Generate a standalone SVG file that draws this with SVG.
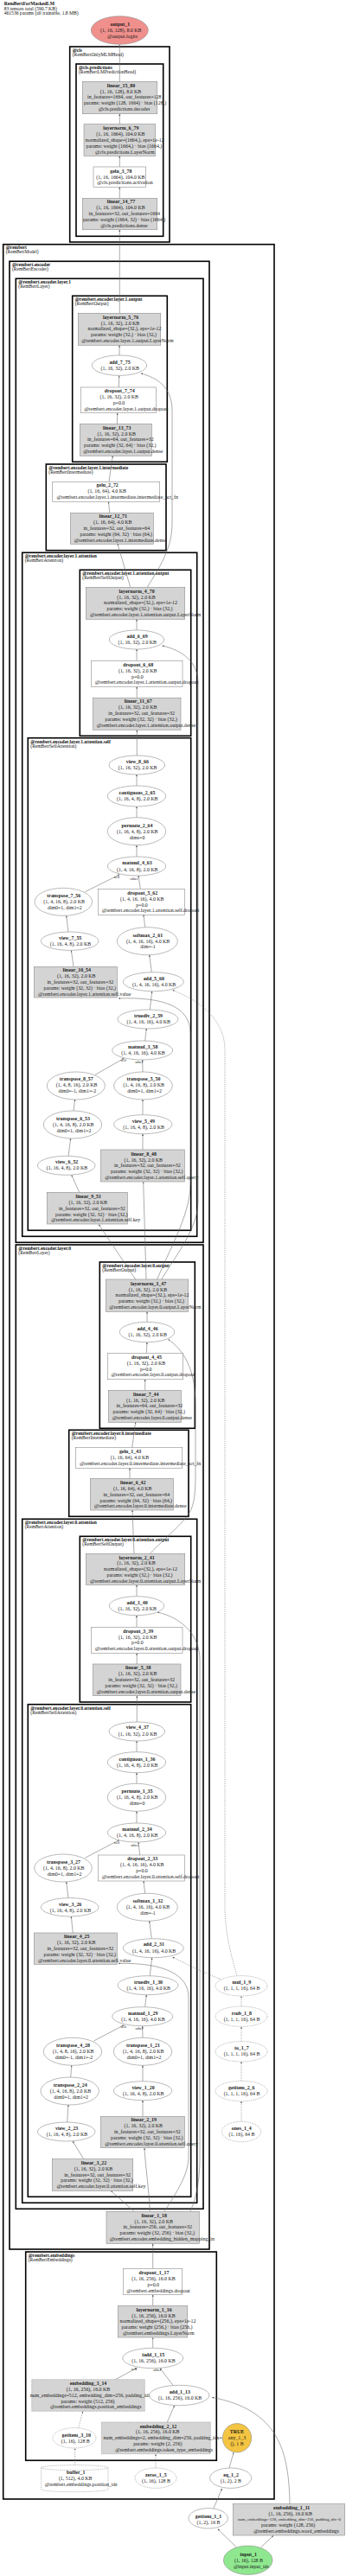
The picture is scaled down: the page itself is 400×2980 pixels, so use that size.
<svg xmlns="http://www.w3.org/2000/svg" width="400" height="2980" viewBox="0 0 400 2980">
<defs>
<style>
text{font-family:'Liberation Serif','Times New Roman',serif}
.c{fill:none;stroke:#000;stroke-width:1.6}
.cl{font-size:5.5px;fill:#111}
.b{font-weight:bold}
.n{stroke:#8c8c8c;stroke-width:.6}
.g{fill:#d4d4d4}
.w{fill:#fff}
.d{stroke-dasharray:1.2 1}
.t{font-size:5.9px;text-anchor:middle;fill:#1a1a1a}
.h{font-size:5.6px;fill:#111}
.e{fill:none;stroke:#666;stroke-width:.55;marker-end:url(#a)}
.ed{stroke-dasharray:1.2 1.2}
.el{font-size:4.4px;text-anchor:middle;fill:#222}
</style>
<marker id="a" markerWidth="4" markerHeight="4" refX="2.2" refY="1" orient="auto" markerUnits="userSpaceOnUse"><path d="M0,0 L2.2,1 L0,2 z" fill="#555"/></marker>
</defs>
<rect width="400" height="2980" fill="#fff"/>
<g id="header">
<text class="h b" x="4.7" y="6.3">RemBertForMaskedLM</text>
<text class="h" x="4.7" y="11.5">83 tensors total (590.7 KB)</text>
<text class="h" x="4.7" y="16.7">461536 params (all trainable, 1.8 MB)</text>
</g>
<g id="clusters">
<rect class="c" x="80.7" y="54" width="115.3" height="226"/>
<text class="cl b" x="83.7" y="59.8">@cls</text><text class="cl" x="83.7" y="64.5">(RemBertOnlyMLMHead)</text>
<rect class="c" x="88" y="74" width="100.7" height="199.3"/>
<text class="cl b" x="91" y="79.8">@cls.predictions</text><text class="cl" x="91" y="84.8">(RemBertLMPredictionHead)</text>
<rect class="c" x="3.7" y="282.7" width="313.3" height="2608.3"/>
<text class="cl b" x="6.7" y="287.8">@rembert</text><text class="cl" x="6.7" y="292.8">(RemBertModel)</text>
<rect class="c" x="11" y="302.3" width="231" height="2299.7"/>
<text class="cl b" x="14" y="307.8">@rembert.encoder</text><text class="cl" x="14" y="312.8">(RemBertEncoder)</text>
<rect class="c" x="18.3" y="322.3" width="216.7" height="1115"/>
<text class="cl b" x="21.3" y="327.8">@rembert.encoder.layer.1</text><text class="cl" x="21.3" y="332.8">(RemBertLayer)</text>
<rect class="c" x="83.7" y="342.3" width="109.6" height="192"/>
<text class="cl b" x="86.7" y="347.8">@rembert.encoder.layer.1.output</text><text class="cl" x="86.7" y="352.8">(RemBertOutput)</text>
<rect class="c" x="53.3" y="537" width="138.7" height="99.7"/>
<text class="cl b" x="56.3" y="542.6">@rembert.encoder.layer.1.intermediate</text><text class="cl" x="56.3" y="547.6">(RemBertIntermediate)</text>
<rect class="c" x="25.7" y="639.3" width="202" height="791"/>
<text class="cl b" x="28.7" y="644.8">@rembert.encoder.layer.1.attention</text><text class="cl" x="28.7" y="649.8">(RemBertAttention)</text>
<rect class="c" x="92.3" y="659.3" width="128.4" height="192"/>
<text class="cl b" x="95.3" y="664.8">@rembert.encoder.layer.1.attention.output</text><text class="cl" x="95.3" y="669.8">(RemBertSelfOutput)</text>
<rect class="c" x="32.3" y="853.7" width="188.4" height="569.6"/>
<text class="cl b" x="35.3" y="859.5">@rembert.encoder.layer.1.attention.self</text><text class="cl" x="35.3" y="864.5">(RemBertSelfAttention)</text>
<rect class="c" x="18.3" y="1440" width="216.7" height="1115.3"/>
<text class="cl b" x="21.3" y="1445.8">@rembert.encoder.layer.0</text><text class="cl" x="21.3" y="1450.8">(RemBertLayer)</text>
<rect class="c" x="115.3" y="1460" width="110" height="192.3"/>
<text class="cl b" x="118.3" y="1465.8">@rembert.encoder.layer.0.output</text><text class="cl" x="118.3" y="1470.8">(RemBertOutput)</text>
<rect class="c" x="79.7" y="1654.3" width="138.3" height="100"/>
<text class="cl b" x="82.7" y="1660">@rembert.encoder.layer.0.intermediate</text><text class="cl" x="82.7" y="1665">(RemBertIntermediate)</text>
<rect class="c" x="25.7" y="1757.3" width="202" height="791"/>
<text class="cl b" x="28.7" y="1762.8">@rembert.encoder.layer.0.attention</text><text class="cl" x="28.7" y="1767.8">(RemBertAttention)</text>
<rect class="c" x="92.3" y="1777.3" width="128.4" height="191.7"/>
<text class="cl b" x="95.3" y="1782.8">@rembert.encoder.layer.0.attention.output</text><text class="cl" x="95.3" y="1787.8">(RemBertSelfOutput)</text>
<rect class="c" x="32.3" y="1971.7" width="188.4" height="569.6"/>
<text class="cl b" x="35.3" y="1977.5">@rembert.encoder.layer.0.attention.self</text><text class="cl" x="35.3" y="1982.5">(RemBertSelfAttention)</text>
<rect class="c" x="29.7" y="2605" width="220.6" height="241.3"/>
<text class="cl b" x="32.7" y="2610.5">@rembert.embeddings</text><text class="cl" x="32.7" y="2615.5">(RemBertEmbeddings)</text>
</g>
<g id="edges">
<path class="e" d="M138.3,94.3 L138.3,51.5"/>
<path class="e" d="M138.3,143.7 L138.3,131.7"/>
<path class="e" d="M138.3,193 L138.3,180.3"/>
<path class="e" d="M138.3,229.3 L138.3,216.3"/>
<path class="e" d="M138.3,362.3 L138.3,265.7"/>
<path class="e" d="M138,411 L138,399.3"/>
<path class="e" d="M137.3,448 L137.7,434.4"/>
<path class="e" d="M135.3,490.3 L135.7,477.7"/>
<path class="e" d="M126,557.3 L130.3,527.3"/>
<path class="e" d="M126.7,593.3 L125.5,580.3"/>
<path class="e" d="M150.7,679.3 L136,629.3"/>
<path class="e" d="M170.3,679.3 C185,655 199,635 199,605 L199,475 C199,448 182,437 163,432"/>
<path class="e" d="M158,728.8 L158,716.3"/>
<path class="e" d="M158,764.3 L158,751"/>
<path class="e" d="M158.2,807.3 L158.2,794.3"/>
<path class="e" d="M158.3,874 L158.3,844.3"/>
<path class="e" d="M158,909 L158,896"/>
<path class="e" d="M158,945.7 L158,933"/>
<path class="e" d="M158,991 L158,977.7"/>
<path class="e" d="M98.3,1031.7 L138.3,1011.7"/>
<path class="e" d="M162.3,1028.3 L160,1013"/>
<path class="e" d="M79,1078 L76.7,1059.3"/>
<path class="e" d="M167.7,1072.7 L166,1058.3"/>
<path class="e" d="M85,1118.3 L82.3,1099.4"/>
<path class="e" d="M175.3,1124.7 L172.7,1104.7"/>
<path class="e" d="M173.3,1168 L175.7,1146.7"/>
<path class="e" d="M167.7,1204 L169.3,1190"/>
<path class="e" d="M110,1243.3 L143.3,1224.3"/>
<path class="e" d="M165,1240 L164.7,1226"/>
<path class="e" d="M85,1285 L86.7,1272"/>
<path class="e" d="M165,1289.7 L165,1272"/>
<path class="e" d="M79,1337.3 L81.7,1317"/>
<path class="e" d="M165,1330 L165,1311.7"/>
<path class="e" d="M91.7,1379.3 L82.7,1359.3"/>
<path class="e" d="M156.7,1480 L114.3,1416.5"/>
<path class="e" d="M169,1480 L165.7,1367.3"/>
<path class="e" d="M181.7,1480 C196,1445 220,1405 220,1370 L220,1195 C220,1165 190,1153 137,1155"/>
<path class="e" d="M186.7,1480 C205,1450 229,1420 229,1390 L229,790 C229,765 210,752 187.5,747"/>
<path class="e" d="M170,1529.3 L170,1517.3"/>
<path class="e" d="M169.3,1565.3 L170,1552.7"/>
<path class="e" d="M167.7,1608.3 L167.7,1595.7"/>
<path class="e" d="M152.7,1674.7 L156.7,1645.3"/>
<path class="e" d="M150,1710.3 L150,1698.3"/>
<path class="e" d="M155,1797.3 L153,1747"/>
<path class="e" d="M173.3,1797.3 C190,1780 212,1762 219,1750 C225,1740 226,1725 226,1705 L226,1625 C226,1585 213,1562 194.5,1549.5"/>
<path class="e" d="M158,1846.7 L158,1833.3"/>
<path class="e" d="M158,1882.3 L158,1868.7"/>
<path class="e" d="M158.2,1925 L158.2,1912.3"/>
<path class="e" d="M158.3,1992 L158.3,1961.7"/>
<path class="e" d="M158,2026.7 L158,2014"/>
<path class="e" d="M158,2063.3 L158,2050.7"/>
<path class="e" d="M158,2109 L158,2095.3"/>
<path class="e" d="M98.3,2149.3 L138.3,2128.3"/>
<path class="e" d="M161.7,2146 L160,2131"/>
<path class="e" d="M79,2195.6 L76.7,2177"/>
<path class="e" d="M167.7,2190.3 L166,2176"/>
<path class="e" d="M84.3,2236 L82.3,2217"/>
<path class="e" d="M175.3,2242.7 L172.7,2222.3"/>
<path class="e" d="M173.3,2285.7 L175.7,2264.7"/>
<path class="e" d="M167.7,2321.7 L169.3,2307.7"/>
<path class="e" d="M108.3,2361 L143.3,2342.7"/>
<path class="e" d="M165,2357.3 L164.7,2343.7"/>
<path class="e" d="M81.7,2403 L82.7,2389.3"/>
<path class="e" d="M165,2407.7 L165,2389.3"/>
<path class="e" d="M77.7,2455 L79,2435"/>
<path class="e" d="M165,2448.3 L165,2429.7"/>
<path class="e" d="M96.7,2497.7 L84,2477"/>
<path class="e" d="M155,2558.3 L128.3,2534.5"/>
<path class="e" d="M173.3,2558.3 C172,2530 168,2505 167,2485"/>
<path class="e" d="M190,2558.3 C205,2535 218,2515 218,2495 L218,2310 C218,2285 190,2270 137,2271.5"/>
<path class="e" d="M220,2558.3 C228,2540 231,2520 231,2495 L231,1920 C231,1893 212,1872 182,1865"/>
<path class="e" d="M176.7,2624.3 L176.7,2595.5"/>
<path class="e" d="M176.7,2667.3 L176.7,2654.5"/>
<path class="e" d="M176.7,2716.3 L176.7,2704.2"/>
<path class="e" d="M133.3,2752.7 L158.3,2739.4"/>
<path class="e" d="M200,2759.3 L185,2739.6"/>
<path class="e" d="M193.3,2802 L201.7,2782.7"/>
<path class="e ed" d="M90.7,2808.7 L95.7,2789.5"/>
<path class="e ed" d="M86.7,2851.7 L86.7,2832.2"/>
<path class="e ed" d="M180,2855 L180,2839"/>
<path class="e" d="M265,2855 L270,2837.2"/>
<path class="e" d="M246.7,2902.3 L256.7,2878.8"/>
<path class="e" d="M273.3,2946.7 L251.7,2925.5"/>
<path class="e" d="M301.7,2946.7 L316,2933.3"/>
<path class="e" d="M335,2896.7 C334,2835 322,2788 245,2773.3"/>
<path class="e ed" d="M279,2454.3 L279,2430.8"/>
<path class="e ed" d="M279,2407.3 L279,2385.1"/>
<path class="e ed" d="M279,2361.6 L279,2344.5"/>
<path class="e ed" d="M279,2321 L279,2309.1"/>
<path class="e ed" d="M274,2285.7 C268,2265 261,2240 260,2210 L260,1215 C260,1180 232,1158 199.5,1145.5"/>
<path class="e ed" d="M255,2289.5 C235,2282 215,2272 199.5,2264"/>
<text class="el" x="135" y="1015.5">self</text><text class="el" x="155" y="1017.5">other</text>
<text class="el" x="142.7" y="1228.2">self</text><text class="el" x="160.7" y="1230.2">other</text>
<text class="el" x="135" y="2133.2">self</text><text class="el" x="155.7" y="2135.5">other</text>
<text class="el" x="142.7" y="2345.8">self</text><text class="el" x="161" y="2347.8">other</text>
<text class="el" x="155" y="2741.8">self</text><text class="el" x="181.7" y="2742.5">other</text>
</g>
<g id="output_1"><ellipse cx="138.3" cy="35" rx="33" ry="16.3" fill="#f0908c" class="n"/><text class="t"><tspan class="b" x="138.9" y="30.3">output_1</tspan><tspan x="139.7" y="37">(1, 16, 128), 8.0 KB</tspan><tspan x="141.5" y="44">@output.logits</tspan></text></g>
<g id="linear_15_80"><rect class="n g" x="95.3" y="94.3" width="86.4" height="37.4"/><text class="t"><tspan class="b" x="140" y="101">linear_15_80</tspan><tspan x="139.5" y="107.7">(1, 16, 128), 8.0 KB</tspan><tspan x="143.8" y="114.3">in_features=1664, out_features=128</tspan><tspan x="144.5" y="121">params: weight (128, 1664) · bias (128,)</tspan><tspan x="143.5" y="128">@cls.predictions.decoder</tspan></text></g>
<g id="layernorm_6_79"><rect class="n g" x="97" y="143.7" width="82.7" height="36.6"/><text class="t"><tspan class="b" x="139.8" y="150.3">layernorm_6_79</tspan><tspan x="139.4" y="157">(1, 16, 1664), 104.0 KB</tspan><tspan x="144.3" y="163.7">normalized_shape=(1664,), eps=1e-12</tspan><tspan x="143.4" y="170.7">params: weight (1664,) · bias (1664,)</tspan><tspan x="144.3" y="177.7">@cls.predictions.LayerNorm</tspan></text></g>
<g id="gelu_3_78"><rect class="n w" x="108" y="193" width="60.7" height="23.3"/><text class="t"><tspan class="b" x="139.8" y="199.7">gelu_3_78</tspan><tspan x="139.4" y="206.7">(1, 16, 1664), 104.0 KB</tspan><tspan x="144.5" y="213.3">@cls.predictions.activation</tspan></text></g>
<g id="linear_14_77"><rect class="n g" x="95.3" y="229.3" width="86.4" height="36.4"/><text class="t"><tspan class="b" x="140" y="235.3">linear_14_77</tspan><tspan x="139.5" y="242.3">(1, 16, 1664), 104.0 KB</tspan><tspan x="143.8" y="249">in_features=32, out_features=1664</tspan><tspan x="143.5" y="256.3">params: weight (1664, 32) · bias (1664,)</tspan><tspan x="143.4" y="263">@cls.predictions.dense</tspan></text></g>
<g id="layernorm_5_76"><rect class="n g" x="90.3" y="362.3" width="95.4" height="37"/><text class="t"><tspan class="b" x="139.5" y="369">layernorm_5_76</tspan><tspan x="139" y="375.7">(1, 16, 32), 2.0 KB</tspan><tspan x="144" y="382.3">normalized_shape=(32,), eps=1e-12</tspan><tspan x="143" y="389">params: weight (32,) · bias (32,)</tspan><tspan x="147.4" y="396">@rembert.encoder.layer.1.output.LayerNorm</tspan></text></g>
<g id="add_7_75"><ellipse class="n w" cx="138" cy="422.7" rx="31.7" ry="11.7"/><text class="t"><tspan class="b" x="138.5" y="421.3">add_7_75</tspan><tspan x="138.8" y="428">(1, 16, 32), 2.0 KB</tspan></text></g>
<g id="dropout_7_74"><rect class="n w" x="93.3" y="448" width="87" height="29.7"/><text class="t"><tspan class="b" x="138.3" y="454">dropout_7_74</tspan><tspan x="137.8" y="461">(1, 16, 32), 2.0 KB</tspan><tspan x="137.5" y="467.7">p=0.0</tspan><tspan x="145.8" y="474.7">@rembert.encoder.layer.1.output.dropout</tspan></text></g>
<g id="linear_13_73"><rect class="n g" x="92.3" y="490.3" width="83" height="37"/><text class="t"><tspan class="b" x="135.3" y="496.7">linear_13_73</tspan><tspan x="134.8" y="503.7">(1, 16, 32), 2.0 KB</tspan><tspan x="139.3" y="510.3">in_features=64, out_features=32</tspan><tspan x="138.8" y="517.3">params: weight (32, 64) · bias (32,)</tspan><tspan x="142.3" y="524.3">@rembert.encoder.layer.1.output.dense</tspan></text></g>
<g id="gelu_2_72"><rect class="n w" x="60.7" y="557.3" width="124" height="23"/><text class="t"><tspan class="b" x="124.2" y="563.3">gelu_2_72</tspan><tspan x="123.7" y="570.3">(1, 16, 64), 4.0 KB</tspan><tspan x="135.8" y="577">@rembert.encoder.layer.1.intermediate.intermediate_act_fn</tspan></text></g>
<g id="linear_12_71"><rect class="n g" x="81.3" y="593.3" width="96" height="36"/><text class="t"><tspan class="b" x="130.8" y="599">linear_12_71</tspan><tspan x="130.3" y="606">(1, 16, 64), 4.0 KB</tspan><tspan x="134.8" y="613">in_features=32, out_features=64</tspan><tspan x="134.3" y="619.7">params: weight (64, 32) · bias (64,)</tspan><tspan x="139.2" y="626.7">@rembert.encoder.layer.1.intermediate.dense</tspan></text></g>
<g id="layernorm_4_70"><rect class="n g" x="99.3" y="679.3" width="114.4" height="37"/><text class="t"><tspan class="b" x="158" y="685.7">layernorm_4_70</tspan><tspan x="157.5" y="692.7">(1, 16, 32), 2.0 KB</tspan><tspan x="162.5" y="699.3">normalized_shape=(32,), eps=1e-12</tspan><tspan x="161.5" y="706">params: weight (32,) · bias (32,)</tspan><tspan x="168.2" y="713">@rembert.encoder.layer.1.attention.output.LayerNorm</tspan></text></g>
<g id="add_6_69"><ellipse class="n w" cx="158" cy="740" rx="31.7" ry="11"/><text class="t"><tspan class="b" x="158.5" y="738">add_6_69</tspan><tspan x="158.8" y="745">(1, 16, 32), 2.0 KB</tspan></text></g>
<g id="dropout_6_68"><rect class="n w" x="105.3" y="764.3" width="105.7" height="30"/><text class="t"><tspan class="b" x="159.7" y="771">dropout_6_68</tspan><tspan x="159.2" y="777.7">(1, 16, 32), 2.0 KB</tspan><tspan x="158.9" y="784.7">p=0.0</tspan><tspan x="169.5" y="791.3">@rembert.encoder.layer.1.attention.output.dropout</tspan></text></g>
<g id="linear_11_67"><rect class="n g" x="107.3" y="807.3" width="101.7" height="37"/><text class="t"><tspan class="b" x="159.7" y="813.3">linear_11_67</tspan><tspan x="159.2" y="820.3">(1, 16, 32), 2.0 KB</tspan><tspan x="163.7" y="827.3">in_features=32, out_features=32</tspan><tspan x="163.2" y="834">params: weight (32, 32) · bias (32,)</tspan><tspan x="169" y="841">@rembert.encoder.layer.1.attention.output.dense</tspan></text></g>
<g id="view_8_66"><ellipse class="n w" cx="158.3" cy="885" rx="32.3" ry="11"/><text class="t"><tspan class="b" x="158.8" y="883.3">view_8_66</tspan><tspan x="159.1" y="890.3">(1, 16, 32), 2.0 KB</tspan></text></g>
<g id="contiguous_2_65"><ellipse class="n w" cx="158" cy="921" rx="33.7" ry="12"/><text class="t"><tspan class="b" x="158.5" y="919">contiguous_2_65</tspan><tspan x="158.8" y="926">(1, 16, 4, 8), 2.0 KB</tspan></text></g>
<g id="permute_2_64"><ellipse class="n w" cx="158" cy="961.7" rx="33.7" ry="16"/><text class="t"><tspan class="b" x="158.5" y="957">permute_2_64</tspan><tspan x="158.8" y="964">(1, 16, 4, 8), 2.0 KB</tspan><tspan x="158.5" y="970.7">dims=0</tspan></text></g>
<g id="matmul_4_63"><ellipse class="n w" cx="158" cy="1002" rx="33.7" ry="11"/><text class="t"><tspan class="b" x="158.5" y="1000.3">matmul_4_63</tspan><tspan x="158.8" y="1007.7">(1, 4, 16, 8), 2.0 KB</tspan></text></g>
<g id="transpose_7_56"><ellipse class="n w" cx="73.3" cy="1043.3" rx="33.3" ry="16"/><text class="t"><tspan class="b" x="73.8" y="1038.3">transpose_7_56</tspan><tspan x="74.1" y="1045.3">(1, 4, 16, 8), 2.0 KB</tspan><tspan x="74.8" y="1052">dim0=1, dim1=2</tspan></text></g>
<g id="dropout_5_62"><rect class="n w" x="113.3" y="1028.3" width="100" height="30"/><text class="t"><tspan class="b" x="164.8" y="1034.7">dropout_5_62</tspan><tspan x="164.3" y="1041.7">(1, 4, 16, 16), 4.0 KB</tspan><tspan x="164" y="1048.7">p=0.0</tspan><tspan x="174.1" y="1055.3">@rembert.encoder.layer.1.attention.self.dropout</tspan></text></g>
<g id="view_7_55"><ellipse class="n w" cx="80.7" cy="1088.7" rx="33.3" ry="10.7"/><text class="t"><tspan class="b" x="81.2" y="1087">view_7_55</tspan><tspan x="81.5" y="1094">(1, 16, 4, 8), 2.0 KB</tspan></text></g>
<g id="softmax_2_61"><ellipse class="n w" cx="170.3" cy="1088.7" rx="35" ry="16"/><text class="t"><tspan class="b" x="170.8" y="1083.7">softmax_2_61</tspan><tspan x="171.1" y="1090.7">(1, 4, 16, 16), 4.0 KB</tspan><tspan x="171" y="1097.3">dim=-1</tspan></text></g>
<g id="linear_10_54"><rect class="n g" x="39.3" y="1118.3" width="96" height="35.7"/><text class="t"><tspan class="b" x="88.8" y="1124.3">linear_10_54</tspan><tspan x="88.3" y="1131.3">(1, 16, 32), 2.0 KB</tspan><tspan x="92.8" y="1138">in_features=32, out_features=32</tspan><tspan x="92.3" y="1145">params: weight (32, 32) · bias (32,)</tspan><tspan x="97.7" y="1151.7">@rembert.encoder.layer.1.attention.self.value</tspan></text></g>
<g id="add_5_60"><ellipse class="n w" cx="177.3" cy="1135.7" rx="35" ry="11"/><text class="t"><tspan class="b" x="177.8" y="1134.3">add_5_60</tspan><tspan x="178.1" y="1141.3">(1, 4, 16, 16), 4.0 KB</tspan></text></g>
<g id="truediv_2_59"><ellipse class="n w" cx="171" cy="1179" rx="35" ry="11"/><text class="t"><tspan class="b" x="171.5" y="1177">truediv_2_59</tspan><tspan x="171.8" y="1184">(1, 4, 16, 16), 4.0 KB</tspan></text></g>
<g id="matmul_3_58"><ellipse class="n w" cx="164.7" cy="1215" rx="35" ry="11"/><text class="t"><tspan class="b" x="165.2" y="1213">matmul_3_58</tspan><tspan x="165.5" y="1220">(1, 4, 16, 16), 4.0 KB</tspan></text></g>
<g id="transpose_8_57"><ellipse class="n w" cx="87.8" cy="1256" rx="33.5" ry="16"/><text class="t"><tspan class="b" x="88.3" y="1250.3">transpose_8_57</tspan><tspan x="88.6" y="1257.3">(1, 4, 8, 16), 2.0 KB</tspan><tspan x="89.3" y="1264">dim0=-1, dim1=-2</tspan></text></g>
<g id="transpose_5_50"><ellipse class="n w" cx="165.5" cy="1256" rx="33.8" ry="16"/><text class="t"><tspan class="b" x="166" y="1250.3">transpose_5_50</tspan><tspan x="166.3" y="1257.3">(1, 4, 16, 8), 2.0 KB</tspan><tspan x="167" y="1264">dim0=1, dim1=2</tspan></text></g>
<g id="transpose_6_53"><ellipse class="n w" cx="84" cy="1301" rx="33.7" ry="16"/><text class="t"><tspan class="b" x="84.5" y="1296">transpose_6_53</tspan><tspan x="84.8" y="1303">(1, 4, 16, 8), 2.0 KB</tspan><tspan x="85.5" y="1309.7">dim0=1, dim1=2</tspan></text></g>
<g id="view_5_49"><ellipse class="n w" cx="165.3" cy="1300.7" rx="33.7" ry="11"/><text class="t"><tspan class="b" x="165.8" y="1299">view_5_49</tspan><tspan x="166.1" y="1306">(1, 16, 4, 8), 2.0 KB</tspan></text></g>
<g id="view_6_52"><ellipse class="n w" cx="76.7" cy="1348.3" rx="33.3" ry="11"/><text class="t"><tspan class="b" x="77.2" y="1346.3">view_6_52</tspan><tspan x="77.5" y="1353.3">(1, 16, 4, 8), 2.0 KB</tspan></text></g>
<g id="linear_8_48"><rect class="n g" x="116.3" y="1330" width="97" height="37"/><text class="t"><tspan class="b" x="166.3" y="1336.7">linear_8_48</tspan><tspan x="165.8" y="1343.7">(1, 16, 32), 2.0 KB</tspan><tspan x="170.3" y="1350.3">in_features=32, out_features=32</tspan><tspan x="169.8" y="1357">params: weight (32, 32) · bias (32,)</tspan><tspan x="175.2" y="1364">@rembert.encoder.layer.1.attention.self.query</tspan></text></g>
<g id="linear_9_51"><rect class="n g" x="54.3" y="1379.3" width="93" height="36.7"/><text class="t"><tspan class="b" x="102.3" y="1386">linear_9_51</tspan><tspan x="101.8" y="1393">(1, 16, 32), 2.0 KB</tspan><tspan x="106.3" y="1399.7">in_features=32, out_features=32</tspan><tspan x="105.8" y="1406.7">params: weight (32, 32) · bias (32,)</tspan><tspan x="110.7" y="1413.3">@rembert.encoder.layer.1.attention.self.key</tspan></text></g>
<g id="layernorm_3_47"><rect class="n g" x="122.3" y="1480" width="95.4" height="37.3"/><text class="t"><tspan class="b" x="171.5" y="1486.7">layernorm_3_47</tspan><tspan x="171" y="1493.7">(1, 16, 32), 2.0 KB</tspan><tspan x="176" y="1500.3">normalized_shape=(32,), eps=1e-12</tspan><tspan x="175" y="1507">params: weight (32,) · bias (32,)</tspan><tspan x="179.4" y="1514">@rembert.encoder.layer.0.output.LayerNorm</tspan></text></g>
<g id="add_4_46"><ellipse class="n w" cx="170" cy="1541" rx="31.7" ry="11.7"/><text class="t"><tspan class="b" x="170.5" y="1539.3">add_4_46</tspan><tspan x="170.8" y="1546.3">(1, 16, 32), 2.0 KB</tspan></text></g>
<g id="dropout_4_45"><rect class="n w" x="124.3" y="1565.3" width="87.4" height="30.4"/><text class="t"><tspan class="b" x="169.5" y="1572">dropout_4_45</tspan><tspan x="169" y="1579">(1, 16, 32), 2.0 KB</tspan><tspan x="168.7" y="1585.7">p=0.0</tspan><tspan x="177" y="1592.3">@rembert.encoder.layer.0.output.dropout</tspan></text></g>
<g id="linear_7_44"><rect class="n g" x="125.3" y="1608.3" width="84" height="37"/><text class="t"><tspan class="b" x="168.8" y="1614.7">linear_7_44</tspan><tspan x="168.3" y="1621.7">(1, 16, 32), 2.0 KB</tspan><tspan x="172.8" y="1628.3">in_features=64, out_features=32</tspan><tspan x="172.3" y="1635.3">params: weight (32, 64) · bias (32,)</tspan><tspan x="175.8" y="1642">@rembert.encoder.layer.0.output.dense</tspan></text></g>
<g id="gelu_1_43"><rect class="n w" x="87.3" y="1674.7" width="123.4" height="23.6"/><text class="t"><tspan class="b" x="150.5" y="1681">gelu_1_43</tspan><tspan x="150" y="1688">(1, 16, 64), 4.0 KB</tspan><tspan x="162.1" y="1694.7">@rembert.encoder.layer.0.intermediate.intermediate_act_fn</tspan></text></g>
<g id="linear_6_42"><rect class="n g" x="104.3" y="1710.3" width="96" height="36.7"/><text class="t"><tspan class="b" x="153.8" y="1717">linear_6_42</tspan><tspan x="153.3" y="1724">(1, 16, 64), 4.0 KB</tspan><tspan x="157.8" y="1730.7">in_features=32, out_features=64</tspan><tspan x="157.3" y="1737.7">params: weight (64, 32) · bias (64,)</tspan><tspan x="162.2" y="1744.3">@rembert.encoder.layer.0.intermediate.dense</tspan></text></g>
<g id="layernorm_2_41"><rect class="n g" x="99.3" y="1797.3" width="114.4" height="36"/><text class="t"><tspan class="b" x="158" y="1803.7">layernorm_2_41</tspan><tspan x="157.5" y="1810.3">(1, 16, 32), 2.0 KB</tspan><tspan x="162.5" y="1817.3">normalized_shape=(32,), eps=1e-12</tspan><tspan x="161.5" y="1824">params: weight (32,) · bias (32,)</tspan><tspan x="168.2" y="1831">@rembert.encoder.layer.0.attention.output.LayerNorm</tspan></text></g>
<g id="add_3_40"><ellipse class="n w" cx="158" cy="1857.7" rx="31.7" ry="11"/><text class="t"><tspan class="b" x="158.5" y="1856">add_3_40</tspan><tspan x="158.8" y="1863">(1, 16, 32), 2.0 KB</tspan></text></g>
<g id="dropout_3_39"><rect class="n w" x="105.3" y="1882.3" width="105.7" height="30"/><text class="t"><tspan class="b" x="159.7" y="1888.7">dropout_3_39</tspan><tspan x="159.2" y="1895.7">(1, 16, 32), 2.0 KB</tspan><tspan x="158.9" y="1902.3">p=0.0</tspan><tspan x="169.5" y="1909">@rembert.encoder.layer.0.attention.output.dropout</tspan></text></g>
<g id="linear_5_38"><rect class="n g" x="107.3" y="1925" width="101.7" height="36.7"/><text class="t"><tspan class="b" x="159.7" y="1931.3">linear_5_38</tspan><tspan x="159.2" y="1938.3">(1, 16, 32), 2.0 KB</tspan><tspan x="163.7" y="1945">in_features=32, out_features=32</tspan><tspan x="163.2" y="1952">params: weight (32, 32) · bias (32,)</tspan><tspan x="169" y="1959">@rembert.encoder.layer.0.attention.output.dense</tspan></text></g>
<g id="view_4_37"><ellipse class="n w" cx="158.3" cy="2003" rx="32.3" ry="11"/><text class="t"><tspan class="b" x="158.8" y="2000.3">view_4_37</tspan><tspan x="159.1" y="2007.7">(1, 16, 32), 2.0 KB</tspan></text></g>
<g id="contiguous_1_36"><ellipse class="n w" cx="158" cy="2038.7" rx="33.7" ry="12"/><text class="t"><tspan class="b" x="158.5" y="2037">contiguous_1_36</tspan><tspan x="158.8" y="2044">(1, 16, 4, 8), 2.0 KB</tspan></text></g>
<g id="permute_1_35"><ellipse class="n w" cx="158" cy="2079.3" rx="33.7" ry="16"/><text class="t"><tspan class="b" x="158.5" y="2074.3">permute_1_35</tspan><tspan x="158.8" y="2081.3">(1, 16, 4, 8), 2.0 KB</tspan><tspan x="158.5" y="2088.3">dims=0</tspan></text></g>
<g id="matmul_2_34"><ellipse class="n w" cx="158" cy="2120" rx="33.7" ry="11"/><text class="t"><tspan class="b" x="158.5" y="2118.3">matmul_2_34</tspan><tspan x="158.8" y="2125.3">(1, 4, 16, 8), 2.0 KB</tspan></text></g>
<g id="transpose_3_27"><ellipse class="n w" cx="73" cy="2161" rx="33.3" ry="16"/><text class="t"><tspan class="b" x="73.5" y="2156">transpose_3_27</tspan><tspan x="73.8" y="2163">(1, 4, 16, 8), 2.0 KB</tspan><tspan x="74.5" y="2170">dim0=1, dim1=2</tspan></text></g>
<g id="dropout_2_33"><rect class="n w" x="113.3" y="2146" width="100" height="30"/><text class="t"><tspan class="b" x="164.8" y="2152.3">dropout_2_33</tspan><tspan x="164.3" y="2159.3">(1, 4, 16, 16), 4.0 KB</tspan><tspan x="164" y="2166">p=0.0</tspan><tspan x="174.1" y="2173">@rembert.encoder.layer.0.attention.self.dropout</tspan></text></g>
<g id="view_3_26"><ellipse class="n w" cx="80.7" cy="2206.3" rx="33.3" ry="10.7"/><text class="t"><tspan class="b" x="81.2" y="2204.7">view_3_26</tspan><tspan x="81.5" y="2211.7">(1, 16, 4, 8), 2.0 KB</tspan></text></g>
<g id="softmax_1_32"><ellipse class="n w" cx="170.3" cy="2206.3" rx="35" ry="16"/><text class="t"><tspan class="b" x="170.8" y="2201.3">softmax_1_32</tspan><tspan x="171.1" y="2208.3">(1, 4, 16, 16), 4.0 KB</tspan><tspan x="171" y="2215">dim=-1</tspan></text></g>
<g id="linear_4_25"><rect class="n g" x="39.3" y="2236" width="96" height="36.3"/><text class="t"><tspan class="b" x="88.8" y="2242">linear_4_25</tspan><tspan x="88.3" y="2249">(1, 16, 32), 2.0 KB</tspan><tspan x="92.8" y="2256">in_features=32, out_features=32</tspan><tspan x="92.3" y="2262.7">params: weight (32, 32) · bias (32,)</tspan><tspan x="97.7" y="2269.7">@rembert.encoder.layer.0.attention.self.value</tspan></text></g>
<g id="add_2_31"><ellipse class="n w" cx="177.3" cy="2253.7" rx="35" ry="11"/><text class="t"><tspan class="b" x="177.8" y="2251.3">add_2_31</tspan><tspan x="178.1" y="2259">(1, 4, 16, 16), 4.0 KB</tspan></text></g>
<g id="truediv_1_30"><ellipse class="n w" cx="171" cy="2296.7" rx="35" ry="11"/><text class="t"><tspan class="b" x="171.5" y="2295">truediv_1_30</tspan><tspan x="171.8" y="2302">(1, 4, 16, 16), 4.0 KB</tspan></text></g>
<g id="matmul_1_29"><ellipse class="n w" cx="164.7" cy="2332.7" rx="35" ry="11"/><text class="t"><tspan class="b" x="165.2" y="2331">matmul_1_29</tspan><tspan x="165.5" y="2338">(1, 4, 16, 16), 4.0 KB</tspan></text></g>
<g id="transpose_4_28"><ellipse class="n w" cx="84" cy="2373.3" rx="33.7" ry="16"/><text class="t"><tspan class="b" x="84.5" y="2368.3">transpose_4_28</tspan><tspan x="84.8" y="2375.3">(1, 4, 8, 16), 2.0 KB</tspan><tspan x="85.5" y="2382">dim0=-1, dim1=-2</tspan></text></g>
<g id="transpose_1_21"><ellipse class="n w" cx="165" cy="2373.3" rx="33.7" ry="16"/><text class="t"><tspan class="b" x="165.5" y="2368.3">transpose_1_21</tspan><tspan x="165.8" y="2375.3">(1, 4, 16, 8), 2.0 KB</tspan><tspan x="166.5" y="2382">dim0=1, dim1=2</tspan></text></g>
<g id="transpose_2_24"><ellipse class="n w" cx="80.7" cy="2419" rx="33.7" ry="16"/><text class="t"><tspan class="b" x="81.2" y="2414">transpose_2_24</tspan><tspan x="81.5" y="2420.7">(1, 4, 16, 8), 2.0 KB</tspan><tspan x="82.2" y="2427.7">dim0=1, dim1=2</tspan></text></g>
<g id="view_1_20"><ellipse class="n w" cx="165" cy="2418.7" rx="33.7" ry="11"/><text class="t"><tspan class="b" x="165.5" y="2417">view_1_20</tspan><tspan x="165.8" y="2424">(1, 16, 4, 8), 2.0 KB</tspan></text></g>
<g id="view_2_23"><ellipse class="n w" cx="76.7" cy="2466" rx="33.3" ry="11"/><text class="t"><tspan class="b" x="77.2" y="2464">view_2_23</tspan><tspan x="77.5" y="2471.3">(1, 16, 4, 8), 2.0 KB</tspan></text></g>
<g id="linear_2_19"><rect class="n g" x="116.3" y="2448.3" width="97" height="36.4"/><text class="t"><tspan class="b" x="166.3" y="2454.3">linear_2_19</tspan><tspan x="165.8" y="2461.3">(1, 16, 32), 2.0 KB</tspan><tspan x="170.3" y="2468">in_features=32, out_features=32</tspan><tspan x="169.8" y="2475">params: weight (32, 32) · bias (32,)</tspan><tspan x="175.2" y="2481.7">@rembert.encoder.layer.0.attention.self.query</tspan></text></g>
<g id="linear_3_22"><rect class="n g" x="60.3" y="2497.7" width="93.4" height="36.6"/><text class="t"><tspan class="b" x="108.5" y="2503.7">linear_3_22</tspan><tspan x="108" y="2510.7">(1, 16, 32), 2.0 KB</tspan><tspan x="112.5" y="2517.7">in_features=32, out_features=32</tspan><tspan x="112" y="2524.3">params: weight (32, 32) · bias (32,)</tspan><tspan x="116.9" y="2531">@rembert.encoder.layer.0.attention.self.key</tspan></text></g>
<g id="linear_1_18"><rect class="n g" x="123" y="2558.3" width="107.3" height="37"/><text class="t"><tspan class="b" x="178.2" y="2564.7">linear_1_18</tspan><tspan x="177.7" y="2571.7">(1, 16, 32), 2.0 KB</tspan><tspan x="182.2" y="2578.3">in_features=256, out_features=32</tspan><tspan x="181.7" y="2585">params: weight (32, 256) · bias (32,)</tspan><tspan x="187.3" y="2592">@rembert.encoder.embedding_hidden_mapping_in</tspan></text></g>
<g id="dropout_1_17"><rect class="n w" x="142.3" y="2624.3" width="68.4" height="30"/><text class="t"><tspan class="b" x="178" y="2631">dropout_1_17</tspan><tspan x="177.5" y="2638">(1, 16, 256), 16.0 KB</tspan><tspan x="177.2" y="2644.7">p=0.0</tspan><tspan x="183" y="2651.7">@rembert.embeddings.dropout</tspan></text></g>
<g id="layernorm_1_16"><rect class="n g" x="136.3" y="2667.3" width="80.4" height="36.7"/><text class="t"><tspan class="b" x="178" y="2673.7">layernorm_1_16</tspan><tspan x="177.5" y="2680.7">(1, 16, 256), 16.0 KB</tspan><tspan x="182.5" y="2687.3">normalized_shape=(256,), eps=1e-12</tspan><tspan x="181.5" y="2694.3">params: weight (256,) · bias (256,)</tspan><tspan x="183.2" y="2701">@rembert.embeddings.LayerNorm</tspan></text></g>
<g id="iadd_1_15"><ellipse class="n w" cx="176.7" cy="2728" rx="35" ry="11.7"/><text class="t"><tspan class="b" x="177.2" y="2726.3">iadd_1_15</tspan><tspan x="177.5" y="2733.3">(1, 16, 256), 16.0 KB</tspan></text></g>
<g id="embedding_3_14"><rect class="n g d" x="36.7" y="2752.7" width="130.6" height="36.6"/><text class="t"><tspan class="b" x="102" y="2759">embedding_3_14</tspan><tspan x="102" y="2766">(1, 16, 256), 16.0 KB</tspan><tspan x="108.7" y="2772.7">num_embeddings=512, embedding_dim=256, padding_idx=-1</tspan><tspan x="101.5" y="2779.7">params: weight (512, 256)</tspan><tspan x="110.7" y="2786.3">@rembert.embeddings.position_embeddings</tspan></text></g>
<g id="add_1_13"><ellipse class="n w" cx="207.3" cy="2771" rx="34.7" ry="11.7"/><text class="t"><tspan class="b" x="207.8" y="2769">add_1_13</tspan><tspan x="208.1" y="2776">(1, 16, 256), 16.0 KB</tspan></text></g>
<g id="embedding_2_12"><rect class="n g d" x="117.3" y="2802" width="126" height="36.7"/><text class="t"><tspan class="b" x="183" y="2808.7">embedding_2_12</tspan><tspan x="182.3" y="2815.3">(1, 16, 256), 16.0 KB</tspan><tspan x="190.7" y="2822.3">num_embeddings=2, embedding_dim=256, padding_idx=-1</tspan><tspan x="182.3" y="2829">params: weight (2, 256)</tspan><tspan x="189.6" y="2836">@rembert.embeddings.token_type_embeddings</tspan></text></g>
<g id="getitem_3_10"><ellipse class="n w d" cx="86" cy="2820.3" rx="25" ry="11.7"/><text class="t"><tspan class="b" x="88.3" y="2818.7">getitem_3_10</tspan><tspan x="87.3" y="2825.7">(1, 16), 128 B</tspan></text></g>
<g id="any_1_3"><circle class="n" cx="274" cy="2820.3" r="16.7" fill="#f4c542"/><text class="t"><tspan class="b" x="274" y="2815.3">TRUE</tspan><tspan x="274" y="2822.3">any_1_3</tspan><tspan x="274" y="2829">(), 1 B</tspan></text></g>
<g id="buffer_1"><path class="n w d" d="M47.7,2854.7 A38.65,3 0 0 1 125,2854.7 L125,2879.7 A38.65,3 0 0 1 47.7,2879.7 Z M47.7,2854.7 A38.65,3 0 0 0 125,2854.7"/><text class="t"><tspan class="b" x="87.7" y="2862">buffer_1</tspan><tspan x="87.2" y="2869.3">(1, 512), 4.0 KB</tspan><tspan x="93.7" y="2876.3">@rembert.embeddings.position_ids</tspan></text></g>
<g id="zeros_1_5"><ellipse class="n w d" cx="180" cy="2866.7" rx="24" ry="11.7"/><text class="t"><tspan class="b" x="180.3" y="2865.3">zeros_1_5</tspan><tspan x="180.5" y="2872.3">(1, 16), 128 B</tspan></text></g>
<g id="eq_1_2"><ellipse class="n w" cx="266.7" cy="2866.7" rx="24" ry="11.7"/><text class="t"><tspan class="b" x="267" y="2865.3">eq_1_2</tspan><tspan x="267" y="2872.3">(1, 2), 2 B</tspan></text></g>
<g id="getitem_1_1"><ellipse class="n w" cx="240.7" cy="2913.3" rx="22.7" ry="11.7"/><text class="t"><tspan class="b" x="241" y="2912.7">getitem_1_1</tspan><tspan x="241" y="2919.7">(1, 2), 16 B</tspan></text></g>
<g id="embedding_1_11"><rect class="n g" x="269.3" y="2896.7" width="129.4" height="36.3"/><text class="t"><tspan class="b" x="337.2" y="2902.7">embedding_1_11</tspan><tspan x="335.8" y="2909.7">(1, 16, 256), 16.0 KB</tspan><tspan x="334.5" y="2916.3" style="font-size:4.8px">num_embeddings=128, embedding_dim=256, padding_idx=0</tspan><tspan x="333.2" y="2923.3">params: weight (128, 256)</tspan><tspan x="342.5" y="2930">@rembert.embeddings.word_embeddings</tspan></text></g>
<g id="input_1"><ellipse class="n" cx="286.7" cy="2961.7" rx="28.3" ry="16.7" fill="#8fe88f"/><text class="t"><tspan class="b" x="287.2" y="2957">input_1</tspan><tspan x="287.5" y="2964">(1, 16), 128 B</tspan><tspan x="290.4" y="2970.7">@input.input_ids</tspan></text></g>
<g id="mul_1_9"><ellipse class="n w d" cx="279" cy="2297.3" rx="30" ry="11.7"/><text class="t"><tspan class="b" x="279.3" y="2295.3">mul_1_9</tspan><tspan x="279.5" y="2302">(1, 1, 1, 16), 64 B</tspan></text></g>
<g id="rsub_1_8"><ellipse class="n w d" cx="279" cy="2332.7" rx="30" ry="11.7"/><text class="t"><tspan class="b" x="279.3" y="2331">rsub_1_8</tspan><tspan x="279.5" y="2337.7">(1, 1, 1, 16), 64 B</tspan></text></g>
<g id="to_1_7"><ellipse class="n w d" cx="279" cy="2373.3" rx="30" ry="11.7"/><text class="t"><tspan class="b" x="279.3" y="2371.3">to_1_7</tspan><tspan x="279.5" y="2378.3">(1, 1, 1, 16), 64 B</tspan></text></g>
<g id="getitem_2_6"><ellipse class="n w d" cx="279" cy="2419" rx="30" ry="11.7"/><text class="t"><tspan class="b" x="279.3" y="2417">getitem_2_6</tspan><tspan x="279.5" y="2424">(1, 1, 1, 16), 64 B</tspan></text></g>
<g id="ones_1_4"><ellipse class="n w d" cx="279" cy="2466" rx="22.7" ry="11.7"/><text class="t"><tspan class="b" x="279.3" y="2464.3">ones_1_4</tspan><tspan x="279.5" y="2471.3">(1, 16), 64 B</tspan></text></g>
</svg>
